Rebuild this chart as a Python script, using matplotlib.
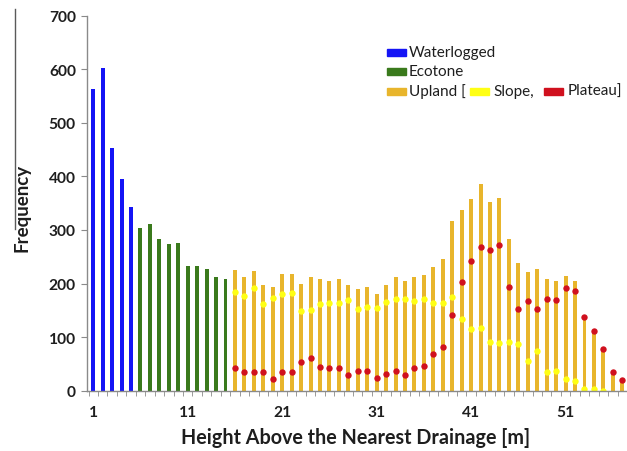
import numpy as np
import matplotlib
matplotlib.use('Agg')
import matplotlib.pyplot as plt
from matplotlib.patches import Rectangle
from matplotlib.lines import Line2D

plt.rcParams['font.family'] = ['Lato', 'DejaVu Sans']

# Frequency per 1 m height class above the nearest drainage
waterlogged_h = [1, 2, 3, 4, 5]
waterlogged = [564, 602, 453, 396, 342]

ecotone_h = [6, 7, 8, 9, 10, 11, 12, 13, 14, 15]
ecotone = [303, 312, 283, 274, 275, 233, 233, 227, 212, 209]

upland_h = list(range(16, 58))
upland = [226, 212, 223, 197, 193, 217, 217, 200, 212, 208,
          205, 208, 198, 189, 193, 180, 197, 212, 204, 212,
          216, 231, 245, 317, 338, 358, 385, 353, 359, 283,
          238, 222, 227, 208, 205, 215, 204, 140, 112, 78,
          37, 22]
slope = [184, 177, 191, 161, 173, 180, 182, 148, 151, 161,
         164, 164, 169, 153, 157, 154, 165, 172, 172, 167,
         171, 164, 164, 175, 134, 116, 117, 90, 89, 90,
         87, 55, 74, 35, 37, 22, 19, 3, 3, 0,
         np.nan, np.nan]
plateau = [42, 35, 34, 35, 21, 35, 35, 54, 61, 45,
           42, 42, 30, 37, 37, 24, 32, 37, 30, 42,
           46, 68, 81, 142, 202, 243, 268, 263, 272, 193,
           153, 167, 153, 171, 169, 191, 186, 138, 111, 78,
           35, 20]

x_labels = [1, 11, 21, 31, 41, 51]

C_WATER = '#1414f5'
C_ECO = '#3a7a1c'
C_UP = '#e8b52c'
C_SLOPE = '#ffff14'
C_PLAT = '#d0101e'
C_AXIS = '#8a8a8a'
C_TEXT = '#1e1e1e'

W, H = 627, 452
fig = plt.figure(figsize=(W / 100, H / 100), dpi=100)
ax = fig.add_axes([87 / W, 1 - 391.7 / H, (W - 87) / W, (391.7 - 16.7) / H])

bw = 0.42
ax.bar(waterlogged_h, waterlogged, width=bw, color=C_WATER, zorder=2)
ax.bar(ecotone_h, ecotone, width=bw, color=C_ECO, zorder=2)
ax.bar(upland_h, upland, width=bw, color=C_UP, zorder=2)
ax.plot(upland_h, slope, 'o', ms=4.6, color=C_SLOPE, mec='none', zorder=3)
ax.plot(upland_h, plateau, 'o', ms=4.6, color=C_PLAT, mec='none', zorder=3)

ax.set_xlim(0.34, 57.1)
ax.set_ylim(0, 700)
ax.set_yticks(range(0, 701, 100))
ax.set_xticks(x_labels)
ax.set_xticks(np.arange(0.5, 58, 1), minor=True)
ax.tick_params(axis='x', which='major', length=0, pad=10)
ax.tick_params(axis='x', which='minor', length=3.5, color=C_AXIS, direction='out')
ax.tick_params(axis='y', length=4, color=C_AXIS, pad=4)
for lab in ax.get_xticklabels() + ax.get_yticklabels():
    lab.set_fontweight('bold')
    lab.set_fontsize(11.2)
    lab.set_color(C_TEXT)

for side in ['top', 'right']:
    ax.spines[side].set_visible(False)
for side in ['left', 'bottom']:
    ax.spines[side].set_color(C_AXIS)
    ax.spines[side].set_linewidth(1.0)
    ax.spines[side].set_zorder(4)

fig.text(356 / W, 1 - 438 / H, 'Height Above the Nearest Drainage [m]',
         ha='center', va='center', fontsize=14.2, fontweight='bold', color=C_TEXT)
fig.text(22 / W, 1 - 208 / H, 'Frequency', rotation=90,
         ha='center', va='center', fontsize=13.5, fontweight='bold', color=C_TEXT)

# thin rule at the far left
fig.add_artist(Line2D([15 / W, 15 / W], [1 - 10 / H, 1 - 230 / H],
                      color='#5a5a5a', lw=1.0))


# legend, built by hand so the upland entry can list its sub-classes
def patch(x0, x1, yc, color):
    fig.add_artist(Rectangle((x0 / W, 1 - (yc + 3.4) / H), (x1 - x0) / W, 6.8 / H,
                             color=color, transform=fig.transFigure))


def label(x, yc, s):
    fig.text(x / W, 1 - yc / H, s, ha='left', va='center', fontsize=11, color=C_TEXT)


patch(387, 406, 53.3, C_WATER)
label(409, 52.5, 'Waterlogged')
patch(387, 406, 72.7, C_ECO)
label(409, 72, 'Ecotone')
patch(387, 406, 92.7, C_UP)
label(409, 92, 'Upland [')
patch(470, 489, 92.7, C_SLOPE)
label(493, 92, 'Slope,')
patch(544, 563, 92.7, C_PLAT)
label(568, 92, 'Plateau]')

fig.savefig('out.png', dpi=100)
